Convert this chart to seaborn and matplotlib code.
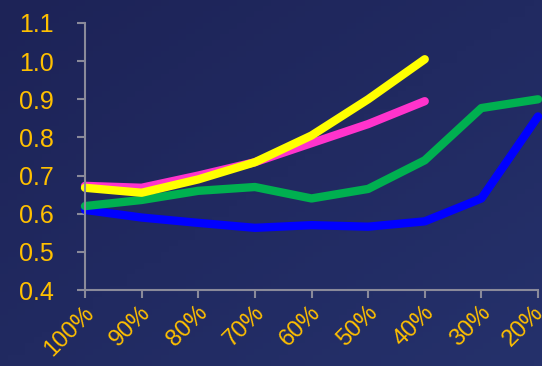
import numpy as np
import pandas as pd
import matplotlib.pyplot as plt
import matplotlib.transforms as mtransforms
import seaborn as sns

# Values
levels = ['100%', '90%', '80%', '70%', '60%', '50%', '40%', '30%', '20%']
blue = [0.61, 0.59, 0.576, 0.563, 0.57, 0.566, 0.58, 0.64, 0.855]
green = [0.62, 0.636, 0.66, 0.67, 0.64, 0.665, 0.74, 0.877, 0.90]
magenta = [0.673, 0.668, 0.70, 0.735, 0.785, 0.835, 0.895]
yellow = [0.668, 0.655, 0.69, 0.735, 0.805, 0.90, 1.005]
yticks = [0.4, 0.5, 0.6, 0.7, 0.8, 0.9, 1.0, 1.1]

series = {'blue': blue, 'green': green, 'magenta': magenta, 'yellow': yellow}
colors = {'blue': '#0000FF', 'green': '#00B050', 'magenta': '#FF33CC', 'yellow': '#FFFF00'}

rows = []
for name, vals in series.items():
    for i, v in enumerate(vals):
        rows.append({'level': i, 'value': v, 'series': name})
df = pd.DataFrame(rows)

bg = '#212a60'
gold = '#FFC000'
axis_grey = '#8a8a9a'

sns.set_style('white')
plt.rcParams['font.family'] = ['Liberation Sans', 'DejaVu Sans']

fig = plt.figure(figsize=(5.42, 3.66), dpi=100)
fig.patch.set_facecolor(bg)

# soft diagonal gradient behind everything
bg_ax = fig.add_axes([0, 0, 1, 1], zorder=-1)
gx, gy = np.meshgrid(np.linspace(0, 1, 64), np.linspace(0, 1, 64))
grad = (gx + gy) / 2
bg_ax.imshow(grad, cmap=sns.blend_palette(['#1d2357', '#25316b'], as_cmap=True),
             aspect='auto', extent=[0, 1, 0, 1], origin='upper')
bg_ax.axis('off')

ax = fig.add_axes([85 / 542, 1 - 290 / 366, (538 - 85) / 542, (290 - 23) / 366])
ax.patch.set_alpha(0)

sns.lineplot(data=df, x='level', y='value', hue='series', palette=colors,
             hue_order=list(series.keys()), linewidth=6, legend=False, ax=ax,
             solid_capstyle='round', clip_on=False)

ax.set_xlim(0, len(levels) - 1)
ax.set_ylim(0.4, 1.1)
ax.set_xticks(range(len(levels)))
ax.set_xticklabels(levels, rotation=45, ha='right', va='top', rotation_mode='anchor')
ax.set_yticks(yticks)
ax.set_yticklabels([f'{t:.1f}' for t in yticks])
ax.set_xlabel('')
ax.set_ylabel('')

for s in ['top', 'right']:
    ax.spines[s].set_visible(False)
for s in ['left', 'bottom']:
    ax.spines[s].set_color(axis_grey)
    ax.spines[s].set_linewidth(1.5)

ax.tick_params(axis='both', colors=axis_grey, labelcolor=gold, labelsize=18,
               length=5.5, width=1.5, direction='out', bottom=True, left=True)
ax.tick_params(axis='y', pad=17)
ax.tick_params(axis='x', pad=3, labelsize=17)

# nudge the slanted labels a little left, as in the reference
xlabels = ax.get_xticklabels()
for i, lab in enumerate(xlabels):
    dx = -6 if i == len(xlabels) - 1 else -2
    shift = mtransforms.ScaledTranslation(dx / 100, 0, fig.dpi_scale_trans)
    lab.set_transform(lab.get_transform() + shift)

plt.savefig('out.png', dpi=100, facecolor=bg)
